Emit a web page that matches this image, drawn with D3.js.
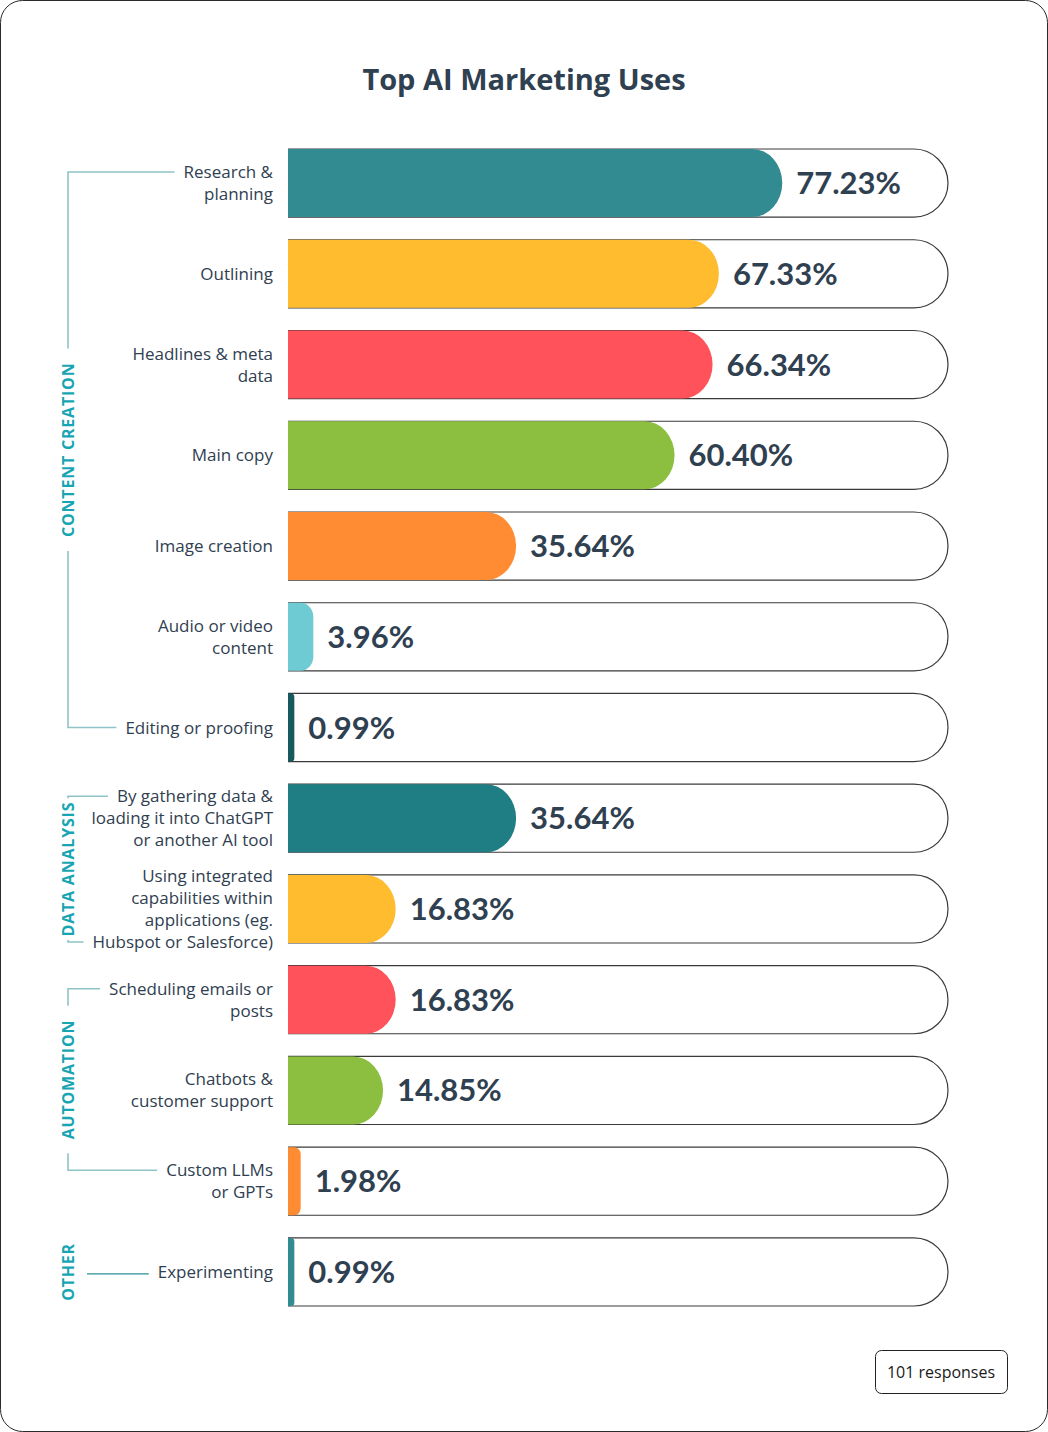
<!DOCTYPE html>
<html>
<head>
<meta charset="utf-8">
<script src="https://cdn.jsdelivr.net/npm/d3@7"></script>
<style>
  html, body { margin: 0; padding: 0; background: #fff; }
  svg { display: block; font-family: "Open Sans", "Lato", sans-serif; }
</style>
</head>
<body>
<div id="chart"></div>
<script>
// data
var labels = [
  "Research &\nplanning",
  "Outlining",
  "Headlines & meta\ndata",
  "Main copy",
  "Image creation",
  "Audio or video\ncontent",
  "Editing or proofing",
  "By gathering data &\nloading it into ChatGPT\nor another AI tool",
  "Using integrated\ncapabilities within\napplications (eg.\nHubspot or Salesforce)",
  "Scheduling emails or\nposts",
  "Chatbots &\ncustomer support",
  "Custom LLMs\nor GPTs",
  "Experimenting"
];
var values = [77.23, 67.33, 66.34, 60.40, 35.64, 3.96, 0.99, 35.64, 16.83, 16.83, 14.85, 1.98, 0.99];
var barColors = ["#338b92", "#ffbc2e", "#ff525a", "#8cbf40", "#ff8c33", "#6fcbd3", "#16595f",
                 "#1f7e84", "#ffbc2e", "#ff525a", "#8cbf40", "#ff8c33", "#338b92"];

var groupNames = ["CONTENT CREATION", "DATA ANALYSIS", "AUTOMATION", "OTHER"];
var groupFirst = [0, 7, 9, 12];
var groupLast = [6, 8, 11, 12];

var W = 1048, H = 1432;
var textColor = "#2f4050";
var groupColor = "#17a5b3";
var bracketColor = "#8fc3c7";

var svg = d3.select("#chart").append("svg")
  .attr("width", W)
  .attr("height", H);

// outer frame
svg.append("rect")
  .attr("x", 0.5).attr("y", 0.5)
  .attr("width", W - 1).attr("height", H - 1)
  .attr("rx", 22)
  .attr("fill", "#fff")
  .attr("stroke", "#2b2b2b");

svg.append("text")
  .attr("x", W / 2)
  .attr("y", 90)
  .attr("text-anchor", "middle")
  .attr("font-size", 29)
  .attr("font-weight", 700)
  .attr("fill", textColor)
  .text("Top AI Marketing Uses");

var x = d3.scaleLinear().domain([0, 100]).range([288, 928]);
var trackEnd = 948;

var y = d3.scaleBand()
  .domain(d3.range(labels.length))
  .range([149, 1306])
  .paddingInner(0.25)
  .paddingOuter(0);

var bh = y.bandwidth();
var lineH = 22;

function lineOffsets(d) {
  var n = d.split("\n").length;
  return d3.range(n).map(function(i) { return (i - (n - 1) / 2) * lineH; });
}

function trackPath(i) {
  var y0 = y(i), y1 = y(i) + bh, r = bh / 2;
  return "M" + x(0) + "," + y0 +
    "H" + (trackEnd - r) +
    "A" + r + "," + r + " 0 0 1 " + (trackEnd - r) + "," + y1 +
    "H" + x(0);
}

function barPath(v, i) {
  var x0 = x(0), x1 = x(v), w = x1 - x0;
  var y0 = y(i), y1 = y(i) + bh;
  var rx = Math.min(30, w / 2);
  var ry = Math.min(bh / 2, rx * 34 / 30);
  return "M" + x0 + "," + y0 +
    "H" + (x1 - rx) +
    "A" + rx + "," + ry + " 0 0 1 " + x1 + "," + (y0 + ry) +
    "V" + (y1 - ry) +
    "A" + rx + "," + ry + " 0 0 1 " + (x1 - rx) + "," + y1 +
    "H" + x0 + "Z";
}

var rows = svg.selectAll("g.row")
  .data(values)
  .enter()
  .append("g")
  .attr("class", "row");

rows.append("path")
  .attr("d", function(d, i) { return trackPath(i); })
  .attr("fill", "#fff")
  .attr("stroke", "#3a3a3a")
  .attr("stroke-width", 1.2);

rows.append("path")
  .attr("d", function(d, i) { return barPath(d, i); })
  .attr("fill", function(d, i) { return barColors[i]; });

rows.append("text")
  .attr("x", function(d) { return x(d) + 14; })
  .attr("y", function(d, i) { return y(i) + bh / 2 + 11; })
  .attr("font-family", "Lato, sans-serif")
  .attr("font-size", 31)
  .attr("font-weight", 700)
  .attr("fill", textColor)
  .text(function(d) { return d.toFixed(2) + "%"; });

// category labels, right aligned
var labelRight = 273;
var labelText = svg.selectAll("text.label")
  .data(labels)
  .enter()
  .append("text")
  .attr("class", "label")
  .attr("text-anchor", "end")
  .attr("font-size", 17)
  .attr("fill", textColor);

labelText.each(function(d, i) {
  var t = d3.select(this);
  var offs = lineOffsets(d);
  d.split("\n").forEach(function(line, k) {
    t.append("tspan")
      .attr("x", labelRight)
      .attr("y", y(i) + bh / 2 + offs[k] + 6)
      .text(line);
  });
});

function lineLeft(i, k) {
  var node = labelText.nodes()[i].childNodes[k];
  return labelRight - node.getComputedTextLength();
}

// group brackets
var bx = 68;
var tickGap = 9;
groupNames.forEach(function(name, g) {
  var first = groupFirst[g], last = groupLast[g];
  var t = svg.append("text")
    .attr("font-size", 16)
    .attr("font-weight", 700)
    .attr("letter-spacing", 0.8)
    .attr("fill", groupColor)
    .attr("text-anchor", "middle")
    .attr("dominant-baseline", "central")
    .text(name);
  var len = t.node().getComputedTextLength();

  if (first === last) {
    var cy = y(first) + bh / 2;
    t.attr("transform", "translate(" + bx + "," + cy + ") rotate(-90)");
    svg.append("line")
      .attr("x1", bx + 19).attr("x2", lineLeft(first, 0) - tickGap)
      .attr("y1", cy + 2).attr("y2", cy + 2)
      .attr("stroke", "#2a8e96")
      .attr("stroke-width", 1.3);
    return;
  }

  var offFirst = lineOffsets(labels[first]);
  var offLast = lineOffsets(labels[last]);
  var top = y(first) + bh / 2 + offFirst[0];
  var lastLine = 0;
  var bottom = y(last) + bh / 2 + offLast[0];
  if (bottom - top < len + 20) {
    lastLine = offLast.length - 1;
    bottom = y(last) + bh / 2 + offLast[lastLine];
  }
  var mid = (top + bottom) / 2;
  t.attr("transform", "translate(" + bx + "," + mid + ") rotate(-90)");

  var gap = Math.min(14, Math.max(3, (bottom - top - len) / 2 - 2));
  var segs = [
    [[lineLeft(first, 0) - tickGap, top], [bx, top], [bx, mid - len / 2 - gap]],
    [[bx, mid + len / 2 + gap], [bx, bottom], [lineLeft(last, lastLine) - tickGap, bottom]]
  ];
  segs.forEach(function(s) {
    svg.append("path")
      .attr("d", d3.line()(s))
      .attr("fill", "none")
      .attr("stroke", bracketColor)
      .attr("stroke-width", 1.6);
  });
});

// responses badge
var badge = svg.append("g").attr("transform", "translate(875,1350)");
badge.append("rect")
  .attr("x", 0.5).attr("y", 0.5)
  .attr("width", 132).attr("height", 43)
  .attr("rx", 6)
  .attr("fill", "#fff")
  .attr("stroke", "#222");
badge.append("text")
  .attr("x", 66).attr("y", 28)
  .attr("text-anchor", "middle")
  .attr("font-size", 16)
  .attr("fill", "#1a1a1a")
  .text("101 responses");
</script>
</body>
</html>
